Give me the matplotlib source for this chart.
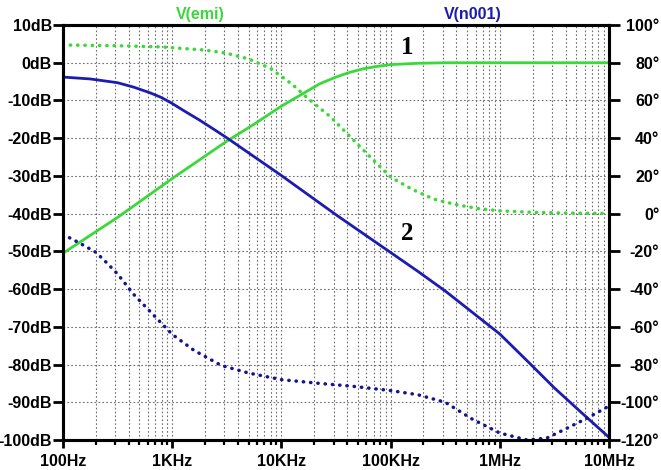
import matplotlib
matplotlib.use("Agg")
import matplotlib.pyplot as plt
from matplotlib.ticker import FixedLocator, LogLocator, NullFormatter

# V(emi): magnitude (dB) and phase (deg)
emi_mag_f = [100, 316, 1000, 3162, 5623, 10000, 17783, 22387, 31623, 41687, 56234, 74131,
             100000, 177828, 316228, 1e6, 1e7]
emi_mag_db = [-50.5, -41.0, -30.7, -20.8, -16.3, -11.5, -7.3, -5.6, -3.8, -2.6, -1.6, -1.0,
              -0.5, -0.15, 0.0, 0.0, 0.0]

emi_ph_f = [100, 316, 794, 1995, 3162, 5012, 7943, 12589, 17783, 28184, 42658, 63096,
            100000, 158489, 251189, 398107, 630957, 1e6, 2e6, 3.98e6, 1e7]
emi_ph_deg = [89.4, 89.0, 88.4, 86.7, 85.0, 82.0, 77.0, 68.5, 60.7, 51.3, 40.8, 30.8,
              19.4, 12.8, 7.6, 4.8, 2.7, 1.5, 0.7, 0.3, 0.1]

# V(n001)
n001_mag_f = [100, 178, 316, 447, 631, 794, 1000, 1259, 1778, 2512, 3162, 5623, 10000, 17783,
              31623, 56234, 100000, 177828, 316228, 562341, 1e6, 1.778e6, 3.162e6, 5.623e6, 1e7]
n001_mag_db = [-3.8, -4.3, -5.3, -6.5, -8.0, -9.2, -10.8, -12.6, -15.2, -18.0, -19.9, -24.9, -29.9, -35.1,
               -40.3, -45.3, -50.3, -55.3, -60.5, -66.2, -71.9, -79.0, -86.2, -92.8, -99.3]

n001_ph_f = [100, 141, 200, 251, 316, 447, 631, 1000, 1585, 2818, 5012, 10000, 22387, 44668,
             100000, 177828, 316228, 562341, 1e6, 1.778e6, 2.69e6, 3.98e6, 6.31e6, 1e7]
n001_ph_deg = [-11.0, -15.5, -20.5, -26.0, -32.0, -43.0, -52.0, -64.0, -72.5, -80.5, -84.5, -88.0, -90.0, -91.5,
               -93.8, -96.0, -100.0, -109.0, -116.3, -120.0, -119.0, -114.2, -108.4, -102.0]

db_ticks = list(range(10, -101, -10))
db_labels = ["%ddB" % v for v in db_ticks]
deg_ticks = list(range(100, -121, -20))
deg_labels = ["%d°" % v for v in deg_ticks]
f_ticks = [1e2, 1e3, 1e4, 1e5, 1e6, 1e7]
f_labels = ["100Hz", "1KHz", "10KHz", "100KHz", "1MHz", "10MHz"]

GREEN = "#3ad83a"
BLUE = "#1c1cb0"
BLUE_DOT = "#14148c"

plt.rcParams["font.family"] = ["Liberation Sans", "DejaVu Sans"]
plt.rcParams["font.weight"] = "bold"

fig = plt.figure(figsize=(6.61, 4.70), dpi=100)
ax = fig.add_axes([63 / 661, 1 - 440 / 470, (609 - 63) / 661, (440 - 25) / 470])
ax2 = ax.twinx()

ax.set_xscale("log")
ax.set_xlim(1e2, 1e7)
ax.set_ylim(-100, 10)
ax2.set_ylim(-120, 100)

ax.yaxis.set_major_locator(FixedLocator(db_ticks))
ax.set_yticklabels(db_labels)
ax2.yaxis.set_major_locator(FixedLocator(deg_ticks))
ax2.set_yticklabels(deg_labels, ha="right")
ax.xaxis.set_major_locator(FixedLocator(f_ticks))
ax.set_xticklabels(f_labels)
ax.xaxis.set_minor_locator(LogLocator(base=10, subs=range(2, 10)))
ax.xaxis.set_minor_formatter(NullFormatter())

grid_kw = dict(color="#6e6e6e", linestyle=(0, (1.5, 2)), linewidth=0.8)
ax.grid(True, which="major", axis="both", **grid_kw)
ax.grid(True, which="minor", axis="x", **grid_kw)
ax.set_axisbelow(True)

for sp in ax.spines.values():
    sp.set_linewidth(2.2)
for sp in ax2.spines.values():
    sp.set_linewidth(2.2)

ax.tick_params(axis="y", which="major", length=7, width=2, labelsize=11.5, pad=1)
ax.tick_params(axis="x", which="major", length=6, width=2, labelsize=11.5, pad=4)
ax.tick_params(axis="x", which="minor", length=3.5, width=1.6)
# right labels are right-aligned against the figure edge
ax2.tick_params(axis="y", which="major", length=8, width=2, labelsize=11.5, pad=28.2)

dot = (0, (0.1, 2.0))
ax.plot(emi_mag_f, emi_mag_db, color=GREEN, lw=2.0)
ax.plot(n001_mag_f, n001_mag_db, color=BLUE, lw=2.0)
ax2.plot(emi_ph_f, emi_ph_deg, color=GREEN, lw=2.5, linestyle=dot, dash_capstyle="round")
ax2.plot(n001_ph_f, n001_ph_deg, color=BLUE_DOT, lw=2.5, linestyle=dot, dash_capstyle="round")

fig.text(200 / 661, 1 - 15 / 470, "V(emi)", color=GREEN, fontsize=11.5,
         ha="center", va="center", fontweight="bold")
fig.text(473 / 661, 1 - 15 / 470, "V(n001)", color=BLUE, fontsize=11.5,
         ha="center", va="center", fontweight="bold")
fig.text(407 / 661, 1 - 48 / 470, "1", family="Liberation Serif", fontsize=18,
         ha="center", va="center", fontweight="bold")
fig.text(407 / 661, 1 - 233 / 470, "2", family="Liberation Serif", fontsize=18,
         ha="center", va="center", fontweight="bold")

fig.savefig("out.png", dpi=100)
